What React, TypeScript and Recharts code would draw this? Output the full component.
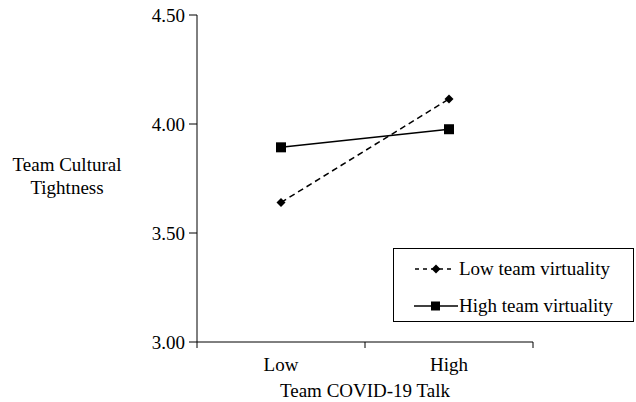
import React from 'react';
import { LineChart, Line, XAxis, YAxis, Legend, Label } from 'recharts';

const categories = ['Low', 'High'];
const lowVirtuality = [3.64, 4.115];
const highVirtuality = [3.893, 3.976];
const yTicks = [3.0, 3.5, 4.0, 4.5];
const seriesNames = ['Low team virtuality', 'High team virtuality'];
const xTitle = 'Team COVID-19 Talk';
const yTitleLines = ['Team Cultural', 'Tightness'];

const data = categories.map((c, i) => ({
  pos: i + 0.5,
  name: c,
  low: lowVirtuality[i],
  high: highVirtuality[i],
}));
const xTicks = [0, 0.5, 1, 1.5, 2];

const FONT = '"Liberation Serif", "Times New Roman", serif';

const XTick = (props: any) => {
  const { x, y, payload } = props;
  const v = payload.value;
  if (Number.isInteger(v)) {
    return <line x1={x} x2={x} y1={y} y2={y + 6} stroke="#000" strokeWidth={1} />;
  }
  const idx = Math.floor(v);
  return (
    <text x={x} y={y + 29} textAnchor="middle" fontFamily={FONT} fontSize={19} fill="#000">
      {categories[idx]}
    </text>
  );
};

const Diamond = (props: any) => {
  const { cx, cy } = props;
  if (cx == null || cy == null) return null;
  const s = 4.5;
  return <polygon points={`${cx},${cy - s} ${cx + s},${cy} ${cx},${cy + s} ${cx - s},${cy}`} fill="#000" />;
};

const Square = (props: any) => {
  const { cx, cy } = props;
  if (cx == null || cy == null) return null;
  return <rect x={cx - 5} y={cy - 5} width={10} height={10} fill="#000" />;
};

const LegendContent = () => (
  <div
    style={{
      position: 'absolute',
      left: 393,
      top: 248,
      width: 241,
      height: 74,
      boxSizing: 'border-box',
      border: '1px solid #000',
      background: '#fff',
      fontFamily: FONT,
      fontSize: 19,
      color: '#000',
    }}
  >
    {[0, 1].map((i) => (
      <div key={i} style={{ position: 'absolute', left: 20, top: i === 0 ? 8 : 45, height: 24, display: 'flex', alignItems: 'center', whiteSpace: 'nowrap' }}>
        <svg width={44} height={14} style={{ marginRight: 1 }}>
          {i === 0 ? (
            <>
              <line x1={1} x2={41} y1={7} y2={7} stroke="#000" strokeWidth={1.5} strokeDasharray="4 4" />
              <polygon points="22,2.5 26.5,7 22,11.5 17.5,7" fill="#000" />
            </>
          ) : (
            <>
              <line x1={0} x2={44} y1={7} y2={7} stroke="#000" strokeWidth={1.5} />
              <rect x={17} y={2.5} width={9} height={9} fill="#000" />
            </>
          )}
        </svg>
        <span>{seriesNames[i]}</span>
      </div>
    ))}
  </div>
);

const YTitle = (props: any) => {
  const vb = props.viewBox || {};
  const cy = vb.y + vb.height / 2;
  return (
    <text fontFamily={FONT} fontSize={19} fill="#000" textAnchor="middle">
      <tspan x={67} y={cy - 8}>{yTitleLines[0]}</tspan>
      <tspan x={67} y={cy + 15}>{yTitleLines[1]}</tspan>
    </text>
  );
};

const XTitle = (props: any) => {
  const vb = props.viewBox || {};
  return (
    <text x={vb.x + vb.width / 2} y={vb.y + 55} fontFamily={FONT} fontSize={19} fill="#000" textAnchor="middle">
      {xTitle}
    </text>
  );
};

export default function App() {
  return (
    <div style={{ position: 'absolute', left: 0, top: 0, width: 636, height: 402, background: '#fff' }}>
      <LineChart width={636} height={402} data={data} margin={{ top: 15, right: 103, bottom: 0, left: 0 }}>
        <XAxis
          dataKey="pos"
          type="number"
          domain={[0, 2]}
          ticks={xTicks}
          interval={0}
          tick={<XTick />}
          tickLine={false}
          tickSize={0}
          tickMargin={0}
          axisLine={{ stroke: '#000', strokeWidth: 1 }}
          height={60}
        >
          <Label content={<XTitle />} />
        </XAxis>
        <YAxis
          type="number"
          domain={[3, 4.5]}
          ticks={yTicks}
          interval={0}
          width={197}
          tickSize={8}
          tickMargin={4}
          tickFormatter={(v: number) => v.toFixed(2)}
          tick={{ fontFamily: FONT, fontSize: 19, fill: '#000' }}
          tickLine={{ stroke: '#000' }}
          axisLine={{ stroke: '#000', strokeWidth: 1 }}
        >
          <Label content={<YTitle />} />
        </YAxis>
        <Legend layout="vertical" verticalAlign="middle" align="center" content={<LegendContent />} wrapperStyle={{ position: 'absolute', left: 0, top: 0, width: 0, height: 0 }} />
        <Line
          dataKey="low"
          name={seriesNames[0]}
          stroke="#000"
          strokeWidth={1.5}
          strokeDasharray="6 4"
          dot={<Diamond />}
          activeDot={false}
          isAnimationActive={false}
        />
        <Line
          dataKey="high"
          name={seriesNames[1]}
          stroke="#000"
          strokeWidth={1.5}
          dot={<Square />}
          activeDot={false}
          isAnimationActive={false}
        />
      </LineChart>
    </div>
  );
}
